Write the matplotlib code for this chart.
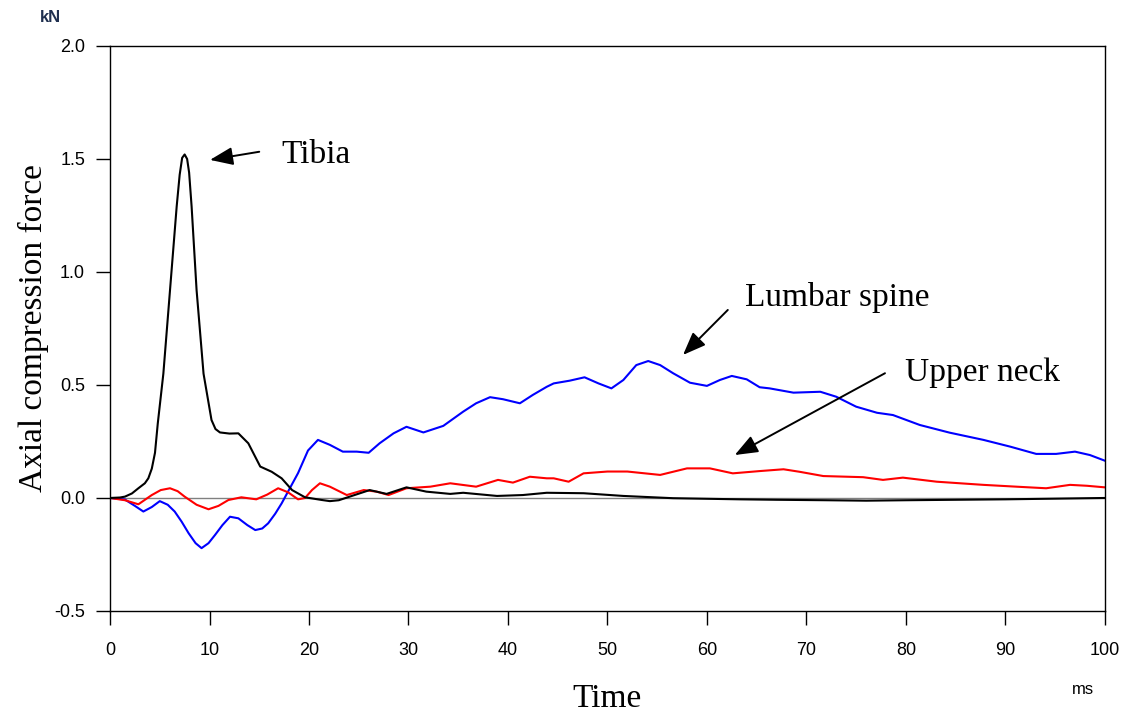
import matplotlib
matplotlib.use("Agg")
import matplotlib.pyplot as plt

# time axis in ms, force in kN
tibia_t = [0, 1, 1.5, 2.2, 2.85, 3.5, 3.85, 4.2, 4.52, 4.8, 5.36, 6.03, 6.7, 7.0, 7.25,
           7.5, 7.75, 7.95, 8.2, 8.7, 9.4, 10.2, 10.6, 11.05, 12.0, 12.9, 13.9, 15.1,
           16.25, 17.25, 18.3, 19.6, 21.3, 22.1, 23.0, 24.1, 26.1, 27.8, 29.8, 31.8, 34.2,
           35.5, 38.9, 41.5, 43.9, 47.6, 51.6, 56.6, 63.3, 67, 72, 76, 80, 85, 90, 95, 100]
tibia_f = [0, 0.002, 0.006, 0.02, 0.043, 0.065, 0.087, 0.13, 0.2, 0.33, 0.55, 0.92, 1.29,
           1.43, 1.505, 1.52, 1.5, 1.44, 1.29, 0.92, 0.55, 0.345, 0.305, 0.29, 0.285,
           0.286, 0.242, 0.139, 0.116, 0.087, 0.035, 0.003, -0.009, -0.014, -0.01, 0.006,
           0.035, 0.018, 0.047, 0.028, 0.018, 0.023, 0.009, 0.013, 0.023, 0.021, 0.009,
           -0.001, -0.006, -0.008, -0.01, -0.012, -0.01, -0.008, -0.006, -0.003, 0.0]

lumbar_t = [0, 1.5, 2.5, 3.35, 4.2, 5.0, 5.8, 6.5, 7.2, 7.9, 8.6, 9.2, 9.9, 10.55, 11.3,
            12.06, 12.9, 13.8, 14.6, 15.3, 15.9, 16.6, 17.25, 18.1, 18.9, 19.9, 20.9, 22.1,
            23.4, 24.8, 26.0, 27.1, 28.5, 29.8, 31.5, 33.5, 35.5, 36.8, 38.2, 39.5, 41.2,
            42.5, 43.9, 44.6, 46.2, 47.7, 49.1, 50.4, 51.6, 52.9, 54.1, 55.3, 56.6, 58.3,
            60.0, 61.3, 62.5, 64.0, 65.3, 66.3, 68.7, 71.4, 73.0, 75.0, 77.1, 78.7, 81.4,
            84.4, 87.8, 90.5, 93.1, 95.1, 97.0, 98.5, 100]
lumbar_f = [0, -0.007, -0.035, -0.06, -0.04, -0.014, -0.03, -0.06, -0.105, -0.156, -0.2,
            -0.222, -0.2, -0.164, -0.12, -0.083, -0.09, -0.12, -0.142, -0.135, -0.112,
            -0.07, -0.024, 0.045, 0.11, 0.21, 0.257, 0.235, 0.205, 0.205, 0.2, 0.242, 0.286,
            0.315, 0.29, 0.319, 0.382, 0.419, 0.446, 0.437, 0.419, 0.456, 0.492, 0.507,
            0.519, 0.534, 0.507, 0.485, 0.522, 0.588, 0.606, 0.588, 0.552, 0.51, 0.496,
            0.522, 0.54, 0.525, 0.49, 0.485, 0.466, 0.47, 0.448, 0.404, 0.377, 0.367, 0.323,
            0.289, 0.257, 0.227, 0.195, 0.195, 0.205, 0.19, 0.165]

neck_t = [0, 1.5, 2.85, 4.2, 5.1, 6.03, 6.8, 7.5, 8.7, 9.9, 10.9, 11.9, 13.2, 14.7, 15.8,
          16.9, 17.9, 18.9, 19.6, 20.3, 21.1, 22.1, 23.8, 25.5, 26.8, 28.0, 29.8, 32.2,
          34.2, 36.8, 39.0, 40.5, 42.2, 43.9, 44.6, 46.1, 47.6, 50.0, 52.0, 55.3, 58.0,
          60.3, 62.6, 65.3, 67.7, 69.3, 71.7, 75.7, 77.7, 79.7, 83.1, 87.8, 91.1, 94.1,
          96.5, 98.2, 100]
neck_f = [0, -0.01, -0.028, 0.013, 0.035, 0.043, 0.03, 0.006, -0.03, -0.05, -0.035,
          -0.009, 0.003, -0.006, 0.015, 0.043, 0.025, -0.006, 0.0, 0.035, 0.065, 0.05,
          0.013, 0.035, 0.028, 0.013, 0.043, 0.05, 0.065, 0.05, 0.08, 0.068, 0.094, 0.087,
          0.087, 0.072, 0.109, 0.117, 0.117, 0.102, 0.131, 0.131, 0.109, 0.119, 0.127,
          0.116, 0.097, 0.092, 0.08, 0.09, 0.072, 0.058, 0.05, 0.043, 0.058, 0.054, 0.047]

xticks = list(range(0, 101, 10))
yticks = [-0.5, 0.0, 0.5, 1.0, 1.5, 2.0]

serif = "Liberation Serif"
sans = "Liberation Sans"

fig = plt.figure(figsize=(11.32, 7.12), dpi=100)
ax = fig.add_axes([0.0972, 0.1419, 0.8788, 0.7935])

ax.axhline(0, color="#808080", lw=1.0, zorder=1)
ax.plot(tibia_t, tibia_f, color="black", lw=1.5, zorder=3)
ax.plot(lumbar_t, lumbar_f, color="#0000ff", lw=1.5, zorder=2)
ax.plot(neck_t, neck_f, color="#ff0000", lw=1.5, zorder=2)

ax.set_xlim(0, 100)
ax.set_ylim(-0.5, 2.0)
ax.set_xticks(xticks)
ax.set_xticklabels([str(v) for v in xticks], fontfamily=sans, fontsize=13)
ax.set_yticks(yticks)
ax.set_yticklabels([f"{v:.1f}" for v in yticks], fontfamily=sans, fontsize=13)
ax.tick_params(direction="out", length=10, width=1, colors="black", pad=8)
ax.tick_params(axis="x", pad=12)
for s in ax.spines.values():
    s.set_linewidth(1.0)

ax.set_xlabel("Time", fontfamily=serif, fontsize=24, labelpad=18)
ax.set_ylabel("Axial compression force", fontfamily=serif, fontsize=24, labelpad=4)
fig.text(0.035, 0.975, "kN", fontfamily=sans, fontsize=12, fontweight="bold",
         color="#1f2f4f", va="center")
fig.text(0.947, 0.031, "ms", fontfamily=sans, fontsize=12, va="center")

arrow = dict(arrowstyle="-|>,head_length=1.4,head_width=0.55", mutation_scale=10,
             color="black", lw=1.4, shrinkA=0, shrinkB=0)
ax.annotate("", xy=(10.05, 1.496), xytext=(15.0, 1.532), arrowprops=arrow)
ax.text(17.2, 1.52, "Tibia", fontfamily=serif, fontsize=24, va="center")
ax.annotate("", xy=(57.6, 0.633), xytext=(62.1, 0.832), arrowprops=arrow)
ax.text(63.8, 0.889, "Lumbar spine", fontfamily=serif, fontsize=24, va="center")
ax.annotate("", xy=(62.8, 0.19), xytext=(77.9, 0.552), arrowprops=arrow)
ax.text(79.9, 0.553, "Upper neck", fontfamily=serif, fontsize=24, va="center")

fig.savefig("out.png", dpi=100)
